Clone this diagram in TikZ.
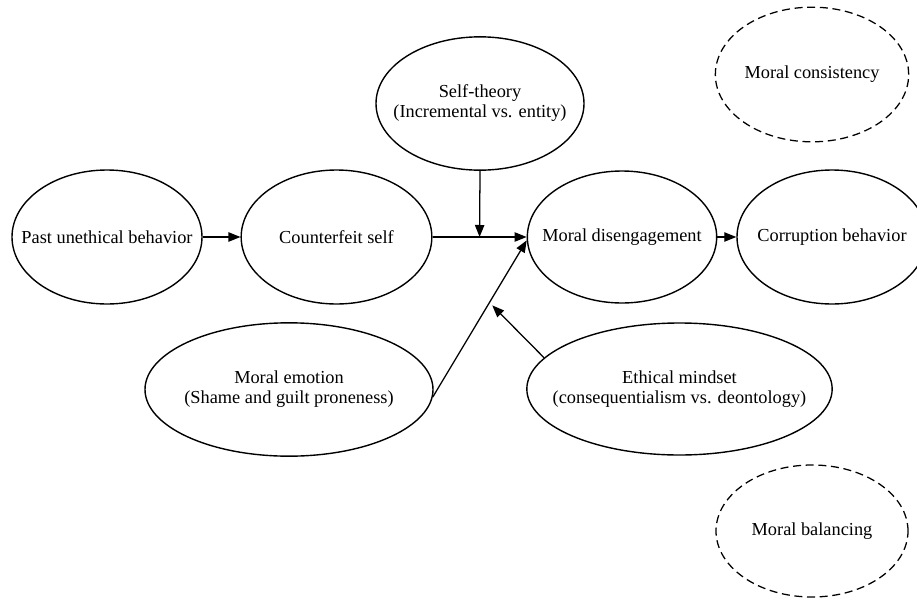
\documentclass[tikz,border=0pt]{standalone}
\usepackage{fontspec}
\setmainfont{Liberation Serif}
\usetikzlibrary{shapes.geometric,arrows.meta}
\begin{document}
\begin{tikzpicture}[x=0.75pt,y=-0.75pt,
  oval/.style={ellipse,draw,line width=1.05pt,inner xsep=-45pt,inner ysep=-8pt,align=center,
    font=\fontsize{13.75}{15}\selectfont},
  dashedoval/.style={oval,line width=0.95pt,dash pattern=on 6pt off 3.5pt},
  arr/.style={line width=0.95pt,-{Triangle[length=9pt,width=7pt]}}]
\useasboundingbox (0,0) rectangle (917,603);
\node[oval,minimum width=142.5pt,minimum height=100.5pt] (pub) at (107,237) {Past unethical behavior};
\node[oval,minimum width=143pt,minimum height=100.5pt] (cs) at (336.5,237) {Counterfeit self};
\node[oval,minimum width=156pt,minimum height=100pt] (st) at (480,103.5) {Self-theory\\(Incremental vs. entity)};
\node[oval,minimum width=142pt,minimum height=99pt] (md) at (622,237) {Moral disengagement};
\node[oval,minimum width=142.5pt,minimum height=100.5pt] (cb) at (832,237) {Corruption behavior};
\node[oval,minimum width=216pt,minimum height=100pt] (me) at (289,389.5) {Moral emotion\\(Shame and guilt proneness)};
\node[oval,minimum width=229pt,minimum height=99pt] (em) at (679.5,389) {Ethical mindset\\(consequentialism vs. deontology)};
\node[dashedoval,minimum width=145pt,minimum height=101pt] (mc) at (812,74.5) {Moral consistency};
\node[dashedoval,minimum width=144pt,minimum height=99pt] (mb) at (812,531) {Moral balancing};

\draw[arr] (pub.east) -- (cs.west);
\draw[arr] (cs.east) -- coordinate[pos=0.5] (mid) (md.west);
\draw[arr] (md.east) -- (cb.west);
\draw[arr] (st.south) -- (mid);
\draw[arr] (me.-3) -- coordinate[pos=0.603] (lnk) (md.182);
\draw[arr,shorten >=3pt] (em.167) -- (lnk);
\end{tikzpicture}
\end{document}
